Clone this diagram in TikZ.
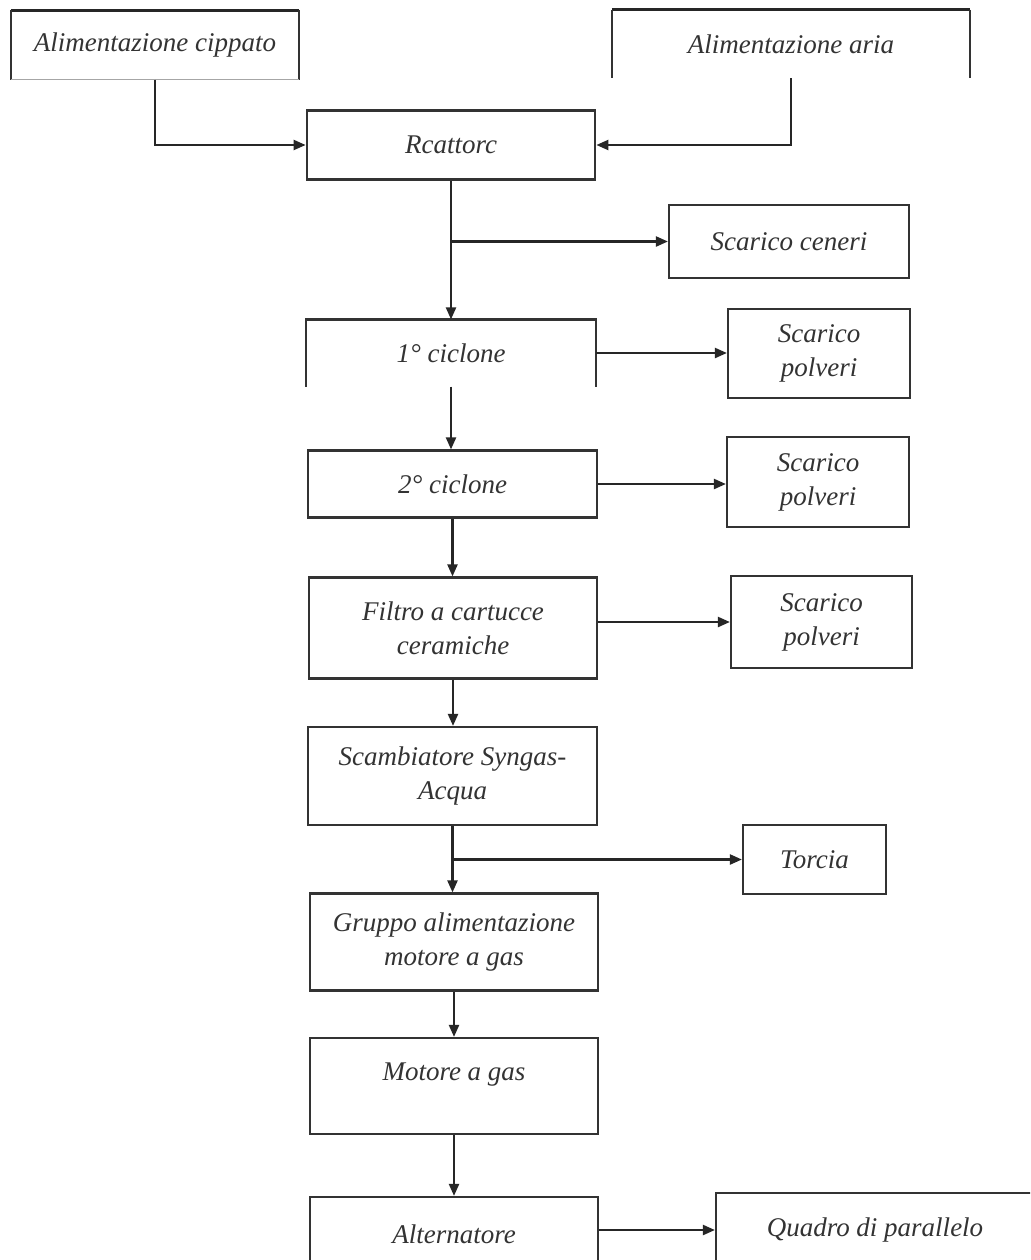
\documentclass[tikz,border=0pt]{standalone}
\usepackage{fontspec}
\setmainfont{Liberation Serif}
\usetikzlibrary{arrows.meta}
\begin{document}
\begin{tikzpicture}[x=1pt,y=-1pt,
  box/.style={draw=black!80,line width=2.2pt,rectangle,inner sep=0pt,
    font=\fontsize{27}{34}\selectfont\itshape,text=black!80,align=center},
  openbox/.style={box,draw=none},
  lbl/.style={font=\fontsize{27}{34}\selectfont\itshape,text=black!80,align=center,inner sep=0pt},
  arr/.style={draw=black!85,line width=2.2pt,-{Triangle[length=12pt,width=10pt]}}]
\clip (0,0) rectangle (1030,1260);
\fill[white] (0,0) rectangle (1030,1260);

% feed boxes (drawn partly open)
\node[openbox,minimum width=286,minimum height=67] (cip) at (155,45) {Alimentazione cippato};
\draw[black!85,line width=3pt] (cip.north west) -- (cip.north east);
\draw[black!80,line width=2.2pt] (cip.north west) -- (cip.south west) (cip.north east) -- (cip.south east);
\draw[black!35,line width=1.2pt] (cip.south west) -- (cip.south east);

\node[openbox,minimum width=356,minimum height=66] (air) at (791,44) {Alimentazione aria};
\draw[black!85,line width=3pt] (air.north west) -- (air.north east);
\draw[black!80,line width=2.2pt] (air.north west) -- (air.south west) (air.north east) -- (air.south east);

% main chain
\node[box,minimum width=288,minimum height=69,line width=2.8pt] (rea) at (451,145) {Rcattorc};
\node[openbox,minimum width=288,minimum height=65] (c1) at (451,353) {1° ciclone};
\draw[black!80,line width=2.2pt] (c1.south west) -- (c1.north west) -- (c1.north east) -- (c1.south east);
\node[box,minimum width=289,minimum height=67] (c2) at (452.5,484) {2° ciclone};
\node[box,minimum width=288,minimum height=101] (fil) at (453,628) {Filtro a cartucce\\ceramiche};
\node[box,minimum width=289,minimum height=98] (sca) at (452.5,776) {Scambiatore Syngas-\\Acqua};
\node[box,minimum width=288,minimum height=97] (gru) at (454,942) {Gruppo alimentazione\\motore a gas};
\node[box,minimum width=288,minimum height=96] (mot) at (454,1086) {};
\node[lbl] (motl) at (454,1075) {Motore a gas};
\node[box,minimum width=288,minimum height=66] (alt) at (454,1230) {};
\node[lbl] (altl) at (454,1234) {Alternatore};

% discharge boxes
\node[box,minimum width=240,minimum height=73] (cen) at (789,241.5) {Scarico ceneri};
\node[box,minimum width=182,minimum height=89] (p1) at (819,353.5) {Scarico\\polveri};
\node[box,minimum width=182,minimum height=90] (p2) at (818,482) {Scarico\\polveri};
\node[box,minimum width=181,minimum height=92] (p3) at (821.5,622) {Scarico\\polveri};
\node[box,minimum width=143,minimum height=69] (tor) at (814.5,859.5) {Torcia};
\node[box,minimum width=329,minimum height=74] (qua) at (880.5,1230) {};
\node[lbl] (qual) at (875,1230) {Quadro di parallelo};

% feeds into the reactor
\draw[arr] (cip.south) |- (rea.west);
\draw[arr] (air.south) |- (rea.east);

% gas line
\draw[arr] (rea.south) -- (c1.north);
\draw[arr] (rea.south |- cen.west) -- (cen.west);
\draw[arr] (c1.south) -- (c1.south |- c2.north);
\draw[arr] (c1.east) -- (c1.east -| p1.west);
\draw[arr] (c2.south) -- (c2.south |- fil.north);
\draw[arr] (c2.east) -- (c2.east -| p2.west);
\draw[arr] (fil.south) -- (fil.south |- sca.north);
\draw[arr] (fil.east |- p3.west) -- (p3.west);
\draw[arr] (sca.south) -- (sca.south |- gru.north);
\draw[arr] (sca.south |- tor.west) -- (tor.west);
\draw[arr] (gru.south) -- (mot.north);
\draw[arr] (mot.south) -- (alt.north);
\draw[arr] (alt.east) -- (qua.west);
\end{tikzpicture}
\end{document}
